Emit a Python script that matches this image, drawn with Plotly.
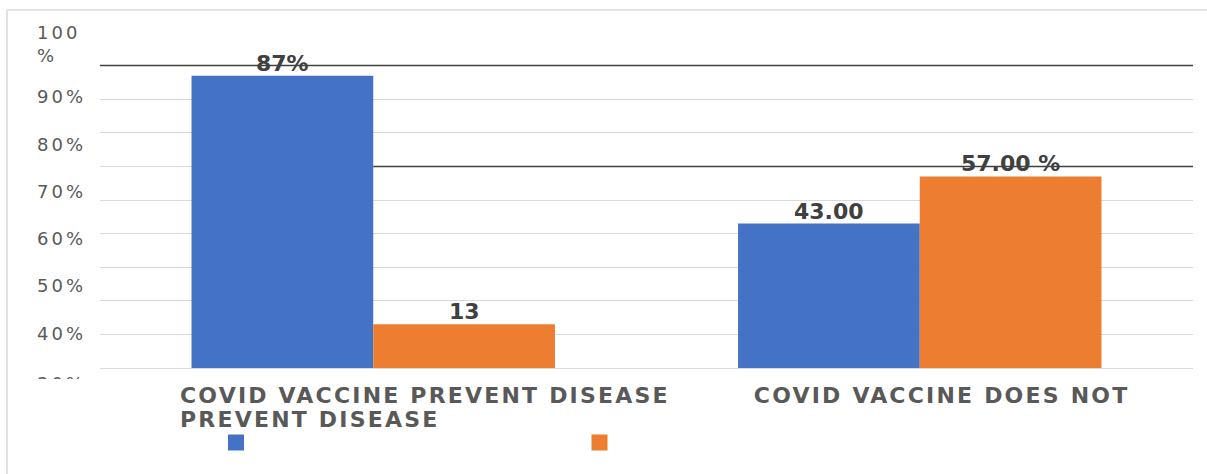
import plotly.graph_objects as go

# ---- data ----
category_lines = [
    ["COVID VACCINE PREVENT DISEASE", "PREVENT DISEASE"],
    ["COVID VACCINE DOES NOT"],
]
blue_values = [87, 43]
orange_values = [13, 57]
blue_labels = ["87%", "43.00"]
orange_labels = ["13", "57.00 %"]
y_tick_labels = ["100<br>%", "90%", "80%", "70%", "60%", "50%", "40%", "30%"]

BLUE = "#4472C4"
ORANGE = "#ED7D31"
GRID = "#D9D9D9"
AXIS_TEXT = "#595959"
LABEL_TEXT = "#404040"
FONT = "DejaVu Sans"

W, H = 1207, 474
ML, MR, MT, MB = 100, 14, 32, 106
PW, PH = W - ML - MR, H - MT - MB
BARGAP = 0.335
HALF_OFFSET = (1 - BARGAP) / 4  # centre offset of each bar within a group


def paper_x(px):
    return (px - ML) / PW


def paper_y(py):
    return (H - MB - py) / PH


x_idx = list(range(len(category_lines)))

fig = go.Figure()
fig.add_trace(go.Bar(x=x_idx, y=blue_values, marker_color=BLUE,
                     marker_line_width=0, showlegend=False))
fig.add_trace(go.Bar(x=x_idx, y=orange_values, marker_color=ORANGE,
                     marker_line_width=0, showlegend=False))
# legend swatches
for col in (BLUE, ORANGE):
    fig.add_trace(go.Scatter(x=[None], y=[None], mode="markers", name="",
                             marker=dict(symbol="square", size=16, color=col)))

annotations = []
spacing = {}  # annotation index -> letter spacing (px)

# value-axis labels, left aligned in the gutter
for i, lab in enumerate(y_tick_labels):
    ann = dict(
        text=lab, xref="paper", x=paper_x(35), xanchor="left", align="left",
        yref="paper", showarrow=False,
        font=dict(family=FONT, size=18, color=AXIS_TEXT),
    )
    if i == 0:
        ann.update(y=paper_y(44), yanchor="middle")
    elif i == len(y_tick_labels) - 1:
        # bottom label is cut by the chart frame
        ann.update(y=paper_y(371), yanchor="top", valign="top",
                   height=6, width=70)
    else:
        ann.update(y=paper_y(96.7 + 47.3 * (i - 1)), yanchor="middle")
    spacing[len(annotations)] = 3
    annotations.append(ann)

# category labels under each bar pair
cat_font = dict(family=FONT, size=22, color=AXIS_TEXT, weight="bold")
for j, lines in enumerate(category_lines):
    for k, line in enumerate(lines):
        ann = dict(text=line, xref="x", yref="paper",
                   y=paper_y(381 + 23.5 * k), yanchor="top",
                   showarrow=False, font=cat_font)
        if j == 0:
            ann.update(x=j - 0.357, xanchor="left", align="left")
        else:
            ann.update(x=j + 0.04, xanchor="center")
        spacing[len(annotations)] = 2.2
        annotations.append(ann)

# value labels above the bars
lab_font = dict(family=FONT, size=22, color=LABEL_TEXT, weight="bold")
for vals, labs, sign in ((blue_values, blue_labels, -1),
                         (orange_values, orange_labels, 1)):
    for j, (v, lab) in enumerate(zip(vals, labs)):
        annotations.append(dict(
            text=lab, xref="x", x=j + sign * HALF_OFFSET, xanchor="center",
            yref="y", y=v, yanchor="bottom", yshift=-2,
            showarrow=False, font=lab_font,
        ))

shapes = [
    # dark reference lines
    dict(type="line", xref="x", yref="y", x0=-0.5, x1=1.5, y0=90, y1=90,
         line=dict(color="#404040", width=1.5), layer="above"),
    dict(type="line", xref="x", yref="y", x0=0, x1=1.5, y0=60, y1=60,
         line=dict(color="#404040", width=1.5), layer="above"),
    # chart frame
    dict(type="line", xref="paper", yref="paper", x0=paper_x(7), x1=paper_x(1210),
         y0=paper_y(10), y1=paper_y(10), line=dict(color=GRID, width=1.5)),
    dict(type="line", xref="paper", yref="paper", x0=paper_x(7), x1=paper_x(7),
         y0=paper_y(10), y1=paper_y(480), line=dict(color=GRID, width=1.5)),
]

fig.update_layout(
    width=W, height=H,
    margin=dict(l=ML, r=MR, t=MT, b=MB),
    plot_bgcolor="white", paper_bgcolor="white",
    barmode="group", bargap=BARGAP, bargroupgap=0,
    font=dict(family=FONT, color=AXIS_TEXT),
    xaxis=dict(range=[-0.5, 1.5], showticklabels=False, showgrid=False,
               zeroline=False, showline=False, fixedrange=True),
    yaxis=dict(range=[0, 100], tickvals=list(range(0, 101, 10)),
               showticklabels=False, showgrid=True, gridcolor=GRID, gridwidth=1.3,
               zeroline=True, zerolinecolor=GRID, zerolinewidth=1.3,
               showline=False, fixedrange=True),
    showlegend=True,
    legend=dict(orientation="h", x=paper_x(216), xanchor="left",
                y=paper_y(428), yanchor="top", entrywidth=318.5,
                entrywidthmode="pixels", bgcolor="rgba(0,0,0,0)",
                itemsizing="trace", font=dict(size=12)),
    annotations=annotations,
    shapes=shapes,
)

# wider tracking for the axis and category text
css = "".join(
    'g.annotation[data-index="%d"] text{letter-spacing:%spx}' % (i, s)
    for i, s in spacing.items()
)
post = ("var s=document.createElement('style');s.textContent='%s';"
        "document.head.appendChild(s);" % css)

fig.write_html("out.html", post_script=post)
